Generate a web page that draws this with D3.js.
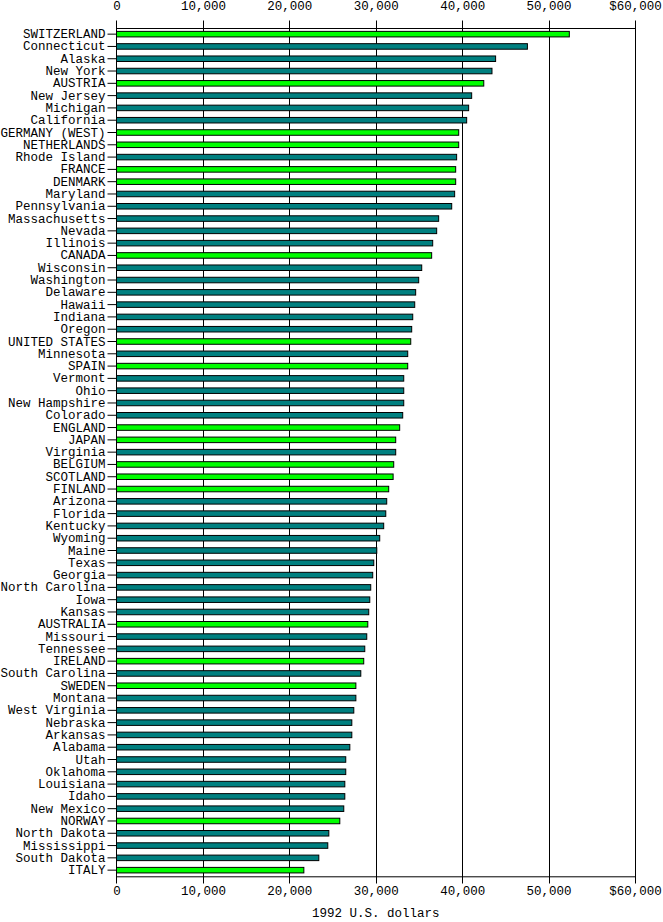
<!DOCTYPE html>
<html>
<head>
<meta charset="utf-8">
<script src="https://cdn.jsdelivr.net/npm/d3@7"></script>
<style>
  body { margin: 0; background: #fff; }
  text { font-family: "Liberation Mono", "DejaVu Sans Mono", monospace; font-size: 12.5px; fill: #000; }
  .bar { stroke: #000; stroke-width: 1; }
</style>
</head>
<body>
<div id="chart"></div>
<script>
// places, in chart order (top to bottom)
var places = ["SWITZERLAND", "Connecticut", "Alaska", "New York", "AUSTRIA", "New Jersey",
  "Michigan", "California", "GERMANY (WEST)", "NETHERLANDS", "Rhode Island", "FRANCE",
  "DENMARK", "Maryland", "Pennsylvania", "Massachusetts", "Nevada", "Illinois", "CANADA",
  "Wisconsin", "Washington", "Delaware", "Hawaii", "Indiana", "Oregon", "UNITED STATES",
  "Minnesota", "SPAIN", "Vermont", "Ohio", "New Hampshire", "Colorado", "ENGLAND", "JAPAN",
  "Virginia", "BELGIUM", "SCOTLAND", "FINLAND", "Arizona", "Florida", "Kentucky", "Wyoming",
  "Maine", "Texas", "Georgia", "North Carolina", "Iowa", "Kansas", "AUSTRALIA", "Missouri",
  "Tennessee", "IRELAND", "South Carolina", "SWEDEN", "Montana", "West Virginia", "Nebraska",
  "Arkansas", "Alabama", "Utah", "Oklahoma", "Louisiana", "Idaho", "New Mexico", "NORWAY",
  "North Dakota", "Mississippi", "South Dakota", "ITALY"];

// 1992 U.S. dollars
var dollars = [52400, 47550, 43870, 43450, 42500, 41100,
  40750, 40520, 39600, 39600, 39360, 39250,
  39250, 39130, 38790, 37280, 37050, 36590, 36470,
  35320, 34970, 34620, 34510, 34280, 34160, 34050,
  33700, 33700, 33240, 33240, 33240, 33120, 32770, 32310,
  32310, 32080, 32010, 31500, 31270, 31160, 30920, 30460,
  30120, 29770, 29650, 29420, 29310, 29190, 29080, 28960,
  28730, 28610, 28270, 27700, 27700, 27460, 27230,
  27230, 27000, 26530, 26530, 26420, 26420, 26300, 25840,
  24570, 24450, 23410, 21680];

// countries are drawn bright green, U.S. states teal
var countries = ["SWITZERLAND", "AUSTRIA", "GERMANY (WEST)", "NETHERLANDS", "FRANCE", "DENMARK",
  "CANADA", "UNITED STATES", "SPAIN", "ENGLAND", "JAPAN", "BELGIUM", "SCOTLAND", "FINLAND",
  "AUSTRALIA", "IRELAND", "SWEDEN", "NORWAY", "ITALY"];

var xTicks = [0, 10000, 20000, 30000, 40000, 50000, 60000];
var axisTitle = "1992 U.S. dollars";

var data = places.map(function (p, i) { return { place: p, value: dollars[i] }; });

var W = 663, H = 922;
var plotLeft = 116.5, plotRight = 635, plotTop = 28, plotBottom = 876.3;

var svg = d3.select("#chart").append("svg")
  .attr("width", W)
  .attr("height", H);

var x = d3.scaleLinear().domain([0, 60000]).range([plotLeft, plotRight]);
var y = d3.scaleBand().domain(places).range([plotTop, plotBottom])
  .paddingInner(0.55).paddingOuter(0.275);

var fmt = function (d) { return (d === 60000 ? "$" : "") + d3.format(",")(d); };

// grid lines, running a bit past both axes
svg.append("g")
  .selectAll("line")
  .data(xTicks.slice(1))
  .enter().append("line")
  .attr("x1", d => Math.round(x(d)) + 0.5)
  .attr("x2", d => Math.round(x(d)) + 0.5)
  .attr("y1", 20.5)
  .attr("y2", 883.5)
  .attr("stroke", "#000");

// left axis line
svg.append("line")
  .attr("x1", plotLeft).attr("x2", plotLeft)
  .attr("y1", 20.5).attr("y2", 883.5)
  .attr("stroke", "#000");

// top and bottom axes
var topAxis = d3.axisTop(x).tickValues(xTicks).tickFormat(fmt)
  .tickSize(0).tickSizeOuter(0).tickPadding(18.5);
svg.append("g")
  .attr("transform", "translate(0," + plotTop + ")")
  .call(topAxis)
  .call(g => g.select(".domain").attr("stroke", "#000").attr("stroke-width", 1));

var bottomAxis = d3.axisBottom(x).tickValues(xTicks).tickFormat(fmt)
  .tickSize(0).tickSizeOuter(0).tickPadding(10);
svg.append("g")
  .attr("transform", "translate(0," + plotBottom + ")")
  .call(bottomAxis)
  .call(g => g.select(".domain").attr("stroke", "#000"));

svg.selectAll(".tick text")
  .style("font-family", '"Liberation Mono", monospace')
  .style("font-size", "12.5px");

// category axis
var yAxis = d3.axisLeft(y).tickSize(9).tickPadding(2);
svg.append("g")
  .attr("transform", "translate(" + plotLeft + ",0)")
  .call(yAxis)
  .call(g => g.select(".domain").remove())
  .call(g => g.selectAll(".tick line").attr("stroke", "#000"))
  .call(g => g.selectAll(".tick text")
    .style("font-family", '"Liberation Mono", monospace')
    .style("font-size", "12.5px"));

// bars
svg.append("g")
  .selectAll("rect")
  .data(data)
  .enter().append("rect")
  .attr("class", "bar")
  .attr("x", x(0))
  .attr("y", d => y(d.place))
  .attr("width", d => x(d.value) - x(0))
  .attr("height", y.bandwidth())
  .attr("fill", d => countries.indexOf(d.place) >= 0 ? "#00ff00" : "#008080");

// axis title
svg.append("text")
  .attr("text-anchor", "middle")
  .attr("x", (plotLeft + plotRight) / 2)
  .attr("y", 917)
  .text(axisTitle);
</script>
</body>
</html>
